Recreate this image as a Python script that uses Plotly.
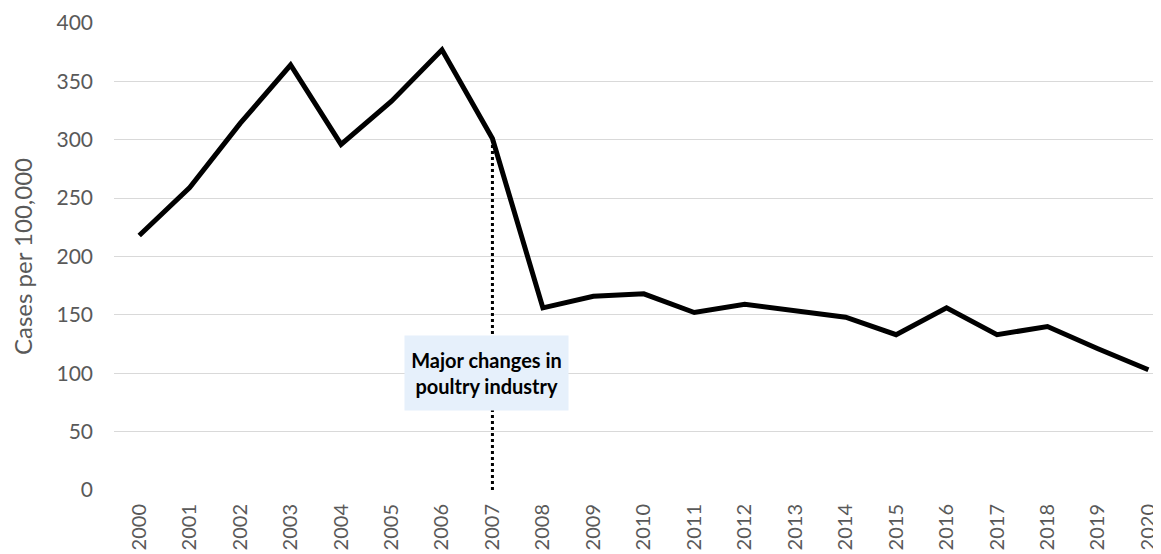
import plotly.graph_objects as go

years = [str(y) for y in range(2000, 2021)]
cases = [218, 259, 314, 364, 296, 333, 377, 301, 156, 166, 168, 152, 159, 153, 148, 133, 156, 133, 140, 121, 103]
y_ticks = [0, 50, 100, 150, 200, 250, 300, 350, 400]
event_year = "2007"
event_label = "<b>Major changes in<br>poultry industry</b>"
event_label_y = 100

event_idx = years.index(event_year)
x_idx = list(range(len(years)))

fig = go.Figure()
fig.add_trace(go.Scatter(
    x=x_idx, y=cases, mode="lines",
    line=dict(color="black", width=5),
    text=years, hoverinfo="text+y", showlegend=False,
))

fig.add_shape(
    type="line", xref="x", yref="y",
    x0=event_idx, x1=event_idx, y0=0, y1=cases[event_idx],
    line=dict(color="black", width=3, dash="dot"),
    layer="above",
)

fig.add_annotation(
    x=event_idx, y=event_label_y, xref="x", yref="y",
    text=event_label, showarrow=False, xshift=-6,
    font=dict(family="Lato, Noto Sans, sans-serif", size=20, color="black"),
    bgcolor="#e6f0fb", width=163, height=74, borderpad=0, align="center",
)

# page body has an 8px margin, so the figure is sized to fit inside the window
fig.update_layout(
    width=1153, height=546,
    margin=dict(l=106, r=0, t=15, b=64),
    paper_bgcolor="white", plot_bgcolor="white",
    xaxis=dict(
        range=[-0.5, 20.25],
        tickvals=x_idx, ticktext=years,
        tickangle=-90,
        tickfont=dict(family="Lato, Noto Sans, sans-serif", size=20, color="#595959"),
        showgrid=False, zeroline=False, showline=False,
        ticks="", ticklabelstandoff=9, automargin=False,
    ),
    yaxis=dict(
        range=[0, 400], tickvals=y_ticks,
        tickfont=dict(family="Lato, Noto Sans, sans-serif", size=21, color="#595959"),
        showgrid=True, gridcolor="#d9d9d9", gridwidth=1,
        zeroline=False, showline=False, ticks="",
        ticklabelstandoff=20, automargin=False,
        title=dict(text="Cases per 100,000",
                   font=dict(family="Lato, Noto Sans, sans-serif", size=24, color="#595959"),
                   standoff=19),
    ),
)

fig.write_html("out.html")
